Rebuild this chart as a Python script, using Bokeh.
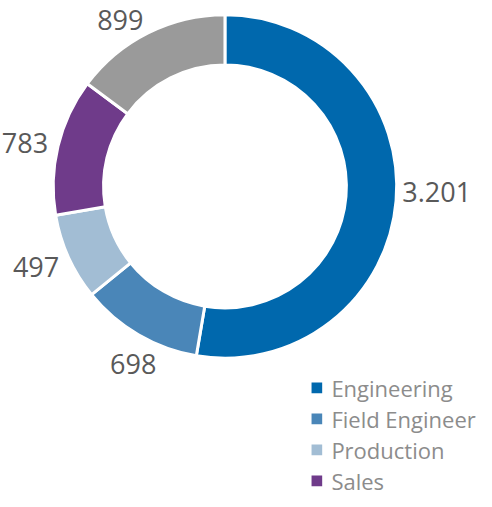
import math
from bokeh.plotting import figure
from bokeh.models import Range1d, ColumnDataSource
from bokeh.core.properties import value
from bokeh.embed import file_html
from bokeh.resources import INLINE

# ---- data ----
categories = ["Engineering", "Field Engineering", "Production", "Sales", "Other"]
counts = [3201, 698, 497, 783, 899]
value_labels = ["3.201", "698", "497", "783", "899"]
colors = ["#0068AD", "#4A86B8", "#A2BDD4", "#6F3B8A", "#9A9A9A"]

# ---- layout: data units follow a 492 x 507 drawing area (y measured downward via py) ----
W, H = 476, 491
REF_W, REF_H = 492, 507
CX, CY = 232, 192
R_OUT, R_IN = 177.5, 125.5
LABEL_R = 188

def py(y_down):
    return REF_H - y_down

p = figure(width=W, height=H, output_backend="svg", toolbar_location=None,
           x_range=Range1d(0, REF_W), y_range=Range1d(0, REF_H), min_border=0)
p.axis.visible = False
p.grid.visible = False
p.outline_line_color = None
p.background_fill_color = "white"
p.border_fill_color = "white"

total = float(sum(counts))
starts, ends, mids = [], [], []
cum = 0.0
for c in counts:
    f0 = cum / total
    cum += c
    f1 = cum / total
    starts.append(math.pi / 2 - 2 * math.pi * f0)
    ends.append(math.pi / 2 - 2 * math.pi * f1)
    mids.append(2 * math.pi * (f0 + f1) / 2)  # clockwise from top

src = ColumnDataSource(dict(start=starts, end=ends, color=colors, cat=categories))
p.annular_wedge(x=CX, y=py(CY), inner_radius=R_IN, outer_radius=R_OUT,
                start_angle="start", end_angle="end", direction="clock",
                fill_color="color", line_color="white", line_width=3, source=src)

# ---- value labels, placed outside the ring along each slice's middle ----
for lab, th in zip(value_labels, mids):
    s, c = math.sin(th), math.cos(th)
    x = CX + LABEL_R * s
    y = py(CY) + LABEL_R * c
    if abs(s) >= 0.8 or (c > 0 and abs(s) >= 0.3):
        align = "left" if s > 0 else "right"
        base = "middle"
        if s > 0:
            x -= 4
            y += 6 * c + 11
        else:
            y += 10 * c - 2
            if c > 0.8:
                y -= 3  # keep the top label inside the picture
    else:
        align = "center"
        base = "top" if c < 0 else "bottom"
        y += -11 if c < 0 else 10
    p.text(x=[x], y=[y], text=[lab], text_align=align, text_baseline=base,
           text_font=value("Open Sans"), text_font_size="27px", text_color="#595959")

# ---- legend (inside the frame; rows past the bottom edge are not shown, as in the original) ----
LEG_X, LEG_Y0, LEG_DY = 327, 400, 32
for i, (cat, col) in enumerate(zip(categories, colors)):
    y_down = LEG_Y0 + LEG_DY * i
    if y_down + 10 > REF_H:
        continue
    yy = py(y_down)
    p.rect(x=[LEG_X], y=[yy], width=11, height=11, fill_color=col, line_color=None)
    p.text(x=[LEG_X + 15], y=[yy], text=[cat], text_align="left", text_baseline="middle",
           text_font=value("Open Sans"), text_font_size="22px", text_color="#8C8C8C")

open("out.html", "w").write(file_html(p, INLINE))
